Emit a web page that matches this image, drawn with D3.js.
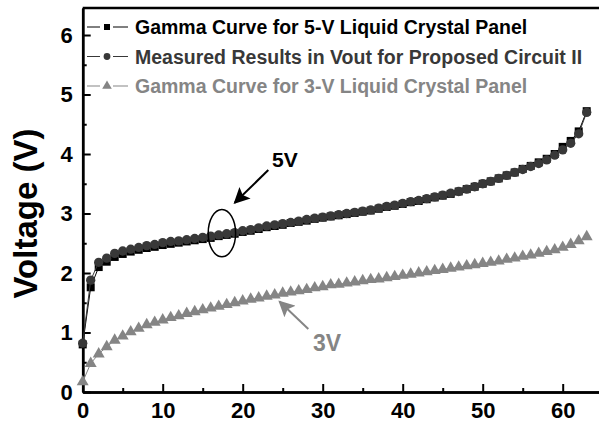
<!DOCTYPE html>
<html lang="en">
    <head>
        <meta charset="utf-8">
        <title>Gamma curves</title>
        <script type="text/javascript" src="https://cdn.jsdelivr.net/npm/d3@7"></script>
        <style>
            body { margin: 0; background: #fff; }
            svg text { font-family: "Liberation Sans", Arial, sans-serif; font-weight: bold; }
        </style>
    </head>
    <body>
        <div id="chart"></div>
        <script type="text/javascript">
            // gray levels 0..63
            var grayLevels = d3.range(64);
            // Gamma curve, 5-V panel (squares)
            var gamma5V = [0.80, 1.76, 2.10, 2.19, 2.27, 2.32, 2.36, 2.39, 2.42, 2.44,
                           2.47, 2.49, 2.51, 2.53, 2.55, 2.57, 2.59, 2.62, 2.64, 2.66,
                           2.69, 2.71, 2.74, 2.77, 2.79, 2.81, 2.84, 2.86, 2.88, 2.91,
                           2.93, 2.95, 2.97, 2.99, 3.01, 3.03, 3.05, 3.08, 3.11, 3.13,
                           3.16, 3.19, 3.21, 3.24, 3.27, 3.30, 3.33, 3.37, 3.41, 3.45,
                           3.50, 3.54, 3.59, 3.64, 3.69, 3.75, 3.80, 3.86, 3.92, 4.00,
                           4.12, 4.22, 4.38, 4.72];
            // measured Vout, proposed circuit II (circles)
            var measured = [0.82, 1.88, 2.18, 2.25, 2.33, 2.37, 2.40, 2.43, 2.46, 2.48,
                            2.51, 2.53, 2.54, 2.56, 2.58, 2.60, 2.62, 2.64, 2.66, 2.68,
                            2.71, 2.73, 2.76, 2.79, 2.81, 2.83, 2.85, 2.87, 2.90, 2.92,
                            2.94, 2.96, 2.98, 3.00, 3.02, 3.04, 3.06, 3.09, 3.12, 3.14,
                            3.17, 3.20, 3.22, 3.25, 3.28, 3.31, 3.34, 3.37, 3.41, 3.45,
                            3.50, 3.54, 3.59, 3.64, 3.69, 3.74, 3.79, 3.84, 3.90, 3.98,
                            4.07, 4.18, 4.34, 4.70];
            // Gamma curve, 3-V panel (triangles)
            var gamma3V = [0.17, 0.48, 0.64, 0.76, 0.87, 0.94, 1.01, 1.07, 1.13, 1.17,
                           1.21, 1.25, 1.28, 1.32, 1.35, 1.38, 1.41, 1.44, 1.47, 1.50,
                           1.53, 1.56, 1.58, 1.61, 1.63, 1.66, 1.68, 1.70, 1.72, 1.75,
                           1.77, 1.80, 1.81, 1.83, 1.85, 1.87, 1.89, 1.90, 1.92, 1.94,
                           1.96, 1.98, 2.00, 2.02, 2.04, 2.06, 2.08, 2.10, 2.12, 2.14,
                           2.16, 2.18, 2.20, 2.23, 2.25, 2.28, 2.30, 2.33, 2.36, 2.39,
                           2.43, 2.48, 2.54, 2.61];
            var legendLabels = ["Gamma Curve for 5-V Liquid Crystal Panel",
                                "Measured Results in Vout for Proposed Circuit II",
                                "Gamma Curve for 3-V Liquid Crystal Panel"];
            var xTicks = [0, 10, 20, 30, 40, 50, 60];
            var xMinorTicks = [5, 15, 25, 35, 45, 55];
            var yTicks = [0, 1, 2, 3, 4, 5, 6];
            var yMinorTicks = [0.5, 1.5, 2.5, 3.5, 4.5, 5.5];

            var w = 599, h = 423;
            var padLeft = 82.7, padBottom = 392, padTop = 8;
            var svg = d3.select("#chart").append("svg")
                        .attr("width", w).attr("height", h);

            var xScale = d3.scaleLinear().domain([0, 65]).range([padLeft, padLeft + 65 * 8]);
            var yScale = d3.scaleLinear().domain([0, 6.454]).range([padBottom, padTop]);

            // 坐标轴 (ticks point inward)
            var xAxis = d3.axisBottom(xScale).tickValues(xTicks).tickSizeInner(-8)
                          .tickSizeOuter(0).tickPadding(10).tickFormat(d3.format("d"));
            var xMinor = d3.axisBottom(xScale).tickValues(xMinorTicks).tickSizeInner(-4)
                           .tickSizeOuter(0).tickFormat("");
            var yAxis = d3.axisLeft(yScale).tickValues(yTicks).tickSizeInner(-8)
                          .tickSizeOuter(0).tickPadding(10).tickFormat(d3.format("d"));
            var yMinor = d3.axisLeft(yScale).tickValues(yMinorTicks).tickSizeInner(-4)
                           .tickSizeOuter(0).tickFormat("");

            [[xAxis, "translate(0," + padBottom + ")"], [xMinor, "translate(0," + padBottom + ")"],
             [yAxis, "translate(" + padLeft + ",0)"], [yMinor, "translate(" + padLeft + ",0)"]]
                .forEach(function (a) {
                    var g = svg.append("g").attr("transform", a[1]).call(a[0]);
                    g.select(".domain").attr("stroke", "#000").attr("stroke-width", 2.5);
                    g.selectAll(".tick line").attr("stroke", "#000").attr("stroke-width", 2);
                    g.selectAll(".tick text").attr("fill", "#000")
                     .style("font-size", "22px").attr("font-family", null);
                });
            // top border
            svg.append("line")
               .attr("x1", padLeft).attr("x2", w + 5)
               .attr("y1", yScale(6.454)).attr("y2", yScale(6.454))
               .attr("stroke", "#000").attr("stroke-width", 2.5);

            svg.append("text")
               .attr("transform", "translate(37," + yScale(3) + ") rotate(-90)")
               .attr("text-anchor", "middle")
               .style("font-size", "33px")
               .text("Voltage (V)");

            // series
            var series = [
                {vals: gamma5V, color: "#000", shape: "square"},
                {vals: measured, color: "#383838", shape: "circle"},
                {vals: gamma3V, color: "#858585", shape: "triangle"}
            ];
            var sym = {
                square: d3.symbol().type(d3.symbolSquare).size(64),
                circle: d3.symbol().type(d3.symbolCircle).size(68),
                triangle: d3.symbol().type(d3.symbolTriangle).size(62)
            };
            var line = d3.line()
                         .x(function (d, i) { return xScale(grayLevels[i]); })
                         .y(function (d) { return yScale(d); });
            series.forEach(function (s) {
                svg.append("path").datum(s.vals)
                   .attr("d", line).attr("fill", "none")
                   .attr("stroke", s.color).attr("stroke-width", 1);
                svg.append("g").selectAll("path").data(s.vals).enter()
                   .append("path")
                   .attr("d", sym[s.shape])
                   .attr("transform", function (d, i) {
                       return "translate(" + xScale(grayLevels[i]) + "," + yScale(d) + ")";
                   })
                   .attr("fill", s.color);
            });

            // legend
            var legendSym = {
                square: d3.symbol().type(d3.symbolSquare).size(36),
                circle: d3.symbol().type(d3.symbolCircle).size(36),
                triangle: d3.symbol().type(d3.symbolTriangle).size(40)
            };
            series.forEach(function (s, i) {
                var cy = 27 + i * 29.5;
                var g = svg.append("g").attr("transform", "translate(0," + cy + ")");
                g.append("line").attr("x1", 87).attr("x2", 100).attr("y1", 0).attr("y2", 0)
                 .attr("stroke", s.color).attr("stroke-width", 1);
                g.append("line").attr("x1", 113).attr("x2", 128).attr("y1", 0).attr("y2", 0)
                 .attr("stroke", s.color).attr("stroke-width", 1);
                g.append("path").attr("d", legendSym[s.shape])
                 .attr("transform", "translate(107,0)").attr("fill", s.color);
                g.append("text").attr("x", 135).attr("y", 7)
                 .style("font-size", "19.5px").attr("fill", s.color)
                 .text(legendLabels[i]);
            });

            // annotations
            svg.append("ellipse")
               .attr("cx", xScale(17.4)).attr("cy", yScale(2.67))
               .attr("rx", 13.7).attr("ry", 23.7)
               .attr("fill", "none").attr("stroke", "#000").attr("stroke-width", 1.5);

            var defs = svg.append("defs");
            [["head5", "#000"], ["head3", "#858585"]].forEach(function (m) {
                defs.append("marker").attr("id", m[0])
                    .attr("viewBox", "0 0 10 10").attr("refX", 9).attr("refY", 5)
                    .attr("markerWidth", 8).attr("markerHeight", 8)
                    .attr("markerUnits", "strokeWidth").attr("orient", "auto")
                    .append("path").attr("d", "M0,0L10,5L0,10L2,5Z").attr("fill", m[1]);
            });
            svg.append("line")
               .attr("x1", xScale(23.2)).attr("y1", yScale(3.73))
               .attr("x2", xScale(19.0)).attr("y2", yScale(3.18))
               .attr("stroke", "#000").attr("stroke-width", 2)
               .attr("marker-end", "url(#head5)");
            svg.append("text").attr("x", 272).attr("y", 167)
               .style("font-size", "21px").attr("fill", "#000").text("5V");

            svg.append("line")
               .attr("x1", xScale(28.2)).attr("y1", yScale(1.06))
               .attr("x2", xScale(24.6)).attr("y2", yScale(1.52))
               .attr("stroke", "#858585").attr("stroke-width", 2)
               .attr("marker-end", "url(#head3)");
            svg.append("text").attr("x", 313).attr("y", 351)
               .style("font-size", "23px").attr("fill", "#858585").text("3V");
        </script>
    </body>
</html>
